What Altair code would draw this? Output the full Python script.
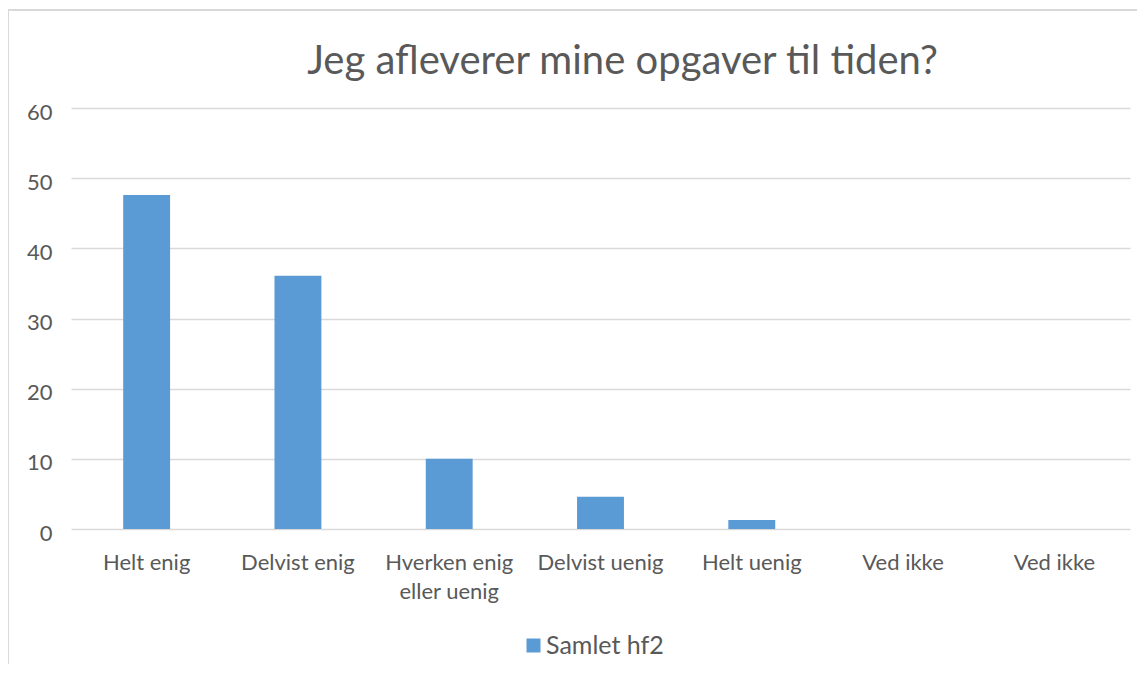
import json
import altair as alt
import pandas as pd

title_text = "Jeg afleverer mine opgaver til tiden?"
categories = ["Helt enig", "Delvist enig", "Hverken enig eller uenig",
              "Delvist uenig", "Helt uenig", "Ved ikke", "Ved ikke"]
label_lines = [["Helt enig"], ["Delvist enig"], ["Hverken enig", "eller uenig"],
               ["Delvist uenig"], ["Helt uenig"], ["Ved ikke"], ["Ved ikke"]]
values = [47.6, 36.1, 10.0, 4.6, 1.3, 0, 0]
series_name = "Samlet hf2"
y_ticks = [0, 10, 20, 30, 40, 50, 60]

df = pd.DataFrame({
    "idx": list(range(len(categories))),
    "kategori": categories,
    "value": values,
    "serie": [series_name] * len(categories),
})

label_expr = json.dumps(label_lines) + "[datum.value]"

FONT = "Lato"
GRAY = "#595959"
GRID = "#d9d9d9"
BLUE = "#5b9bd5"

W, H = 1059, 421

bars = alt.Chart(df).mark_bar(color=BLUE).encode(
    x=alt.X("idx:O",
            sort=None,
            scale=alt.Scale(paddingInner=0.69, paddingOuter=0.345),
            axis=alt.Axis(title=None, labelExpr=label_expr, labelAngle=0,
                          labelFont=FONT, labelFontSize=22, labelColor=GRAY,
                          labelPadding=23, labelLineHeight=29,
                          ticks=False, domain=False, grid=False)),
    y=alt.Y("value:Q",
            scale=alt.Scale(domain=[0, 60]),
            axis=alt.Axis(title=None, values=y_ticks, labelFont=FONT,
                          labelFontSize=22, labelColor=GRAY, labelPadding=19,
                          labelOffset=4,
                          ticks=False, domain=False, grid=True,
                          gridColor=GRID, gridWidth=1.5)),
    color=alt.Color("serie:N",
                    scale=alt.Scale(range=[BLUE]),
                    legend=alt.Legend(title=None, orient="none",
                                      legendX=450, legendY=525,
                                      symbolType="square", symbolSize=196,
                                      symbolStrokeWidth=0,
                                      labelFont=FONT, labelFontSize=25,
                                      labelColor=GRAY, labelOffset=0)),
)

frame_left = alt.Chart(df).mark_rule(color=GRID, strokeWidth=1.5).encode(
    x=alt.value(-63), y=alt.value(-98), y2=alt.value(H + 140))
frame_top = alt.Chart(df).mark_rule(color=GRID, strokeWidth=1.5).encode(
    x=alt.value(-63), x2=alt.value(W + 20), y=alt.value(-98))

chart = alt.layer(frame_left, frame_top, bars).properties(
    width=W, height=H,
    autosize=alt.AutoSizeParams(type="none"),
    padding={"left": 63, "top": 100, "right": 7, "bottom": 135},
    title=alt.TitleParams(title_text, font=FONT, fontSize=40, fontWeight="normal",
                          color=GRAY, anchor="middle", dx=22, offset=-105,
                          baseline="alphabetic"),
).configure_view(stroke=None)

chart.save("out.html", embed_options={"renderer": "svg", "actions": False})
